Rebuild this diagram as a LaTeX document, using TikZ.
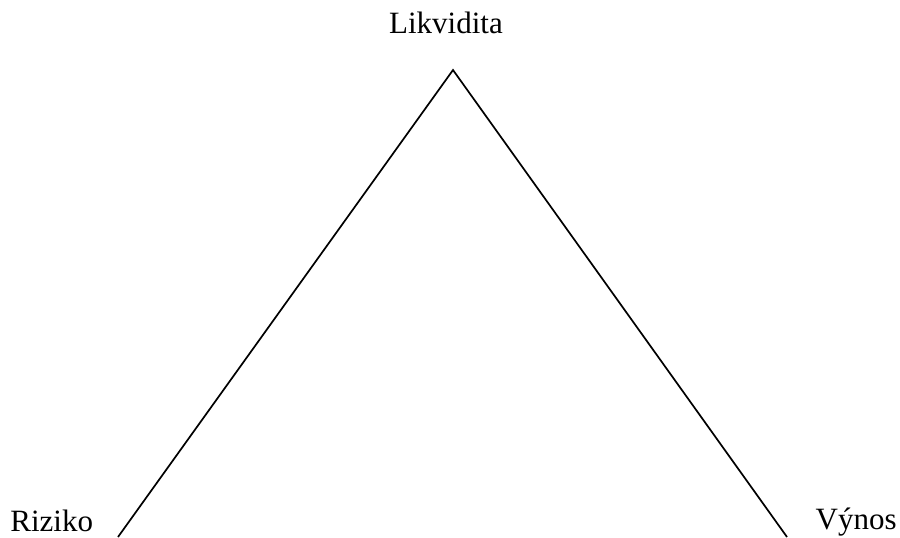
\documentclass[tikz,border=0pt]{standalone}
\usepackage{fontspec}
\setmainfont{Liberation Serif}
\begin{document}
\begin{tikzpicture}[x=0.5pt,y=-0.5pt,
  lbl/.style={inner sep=0pt, font=\fontsize{15.5pt}{18pt}\selectfont},
  side/.style={draw=black, line width=0.85pt}]
\useasboundingbox (0,0) rectangle (900,537);
\clip (0,0) rectangle (900,537);
\coordinate (top) at (453,70);
\coordinate (left) at (118,537);
\coordinate (right) at (787,537);
\node[lbl, anchor=base] (likv) at (446,33) {Likvidita};
\node[lbl, anchor=base west] (riz) at (10,531) {Riziko};
\node[lbl, anchor=base east] (vyn) at (897,529) {Výnos};
\draw[side] (left) -- (top) -- (right);
\end{tikzpicture}
\end{document}
